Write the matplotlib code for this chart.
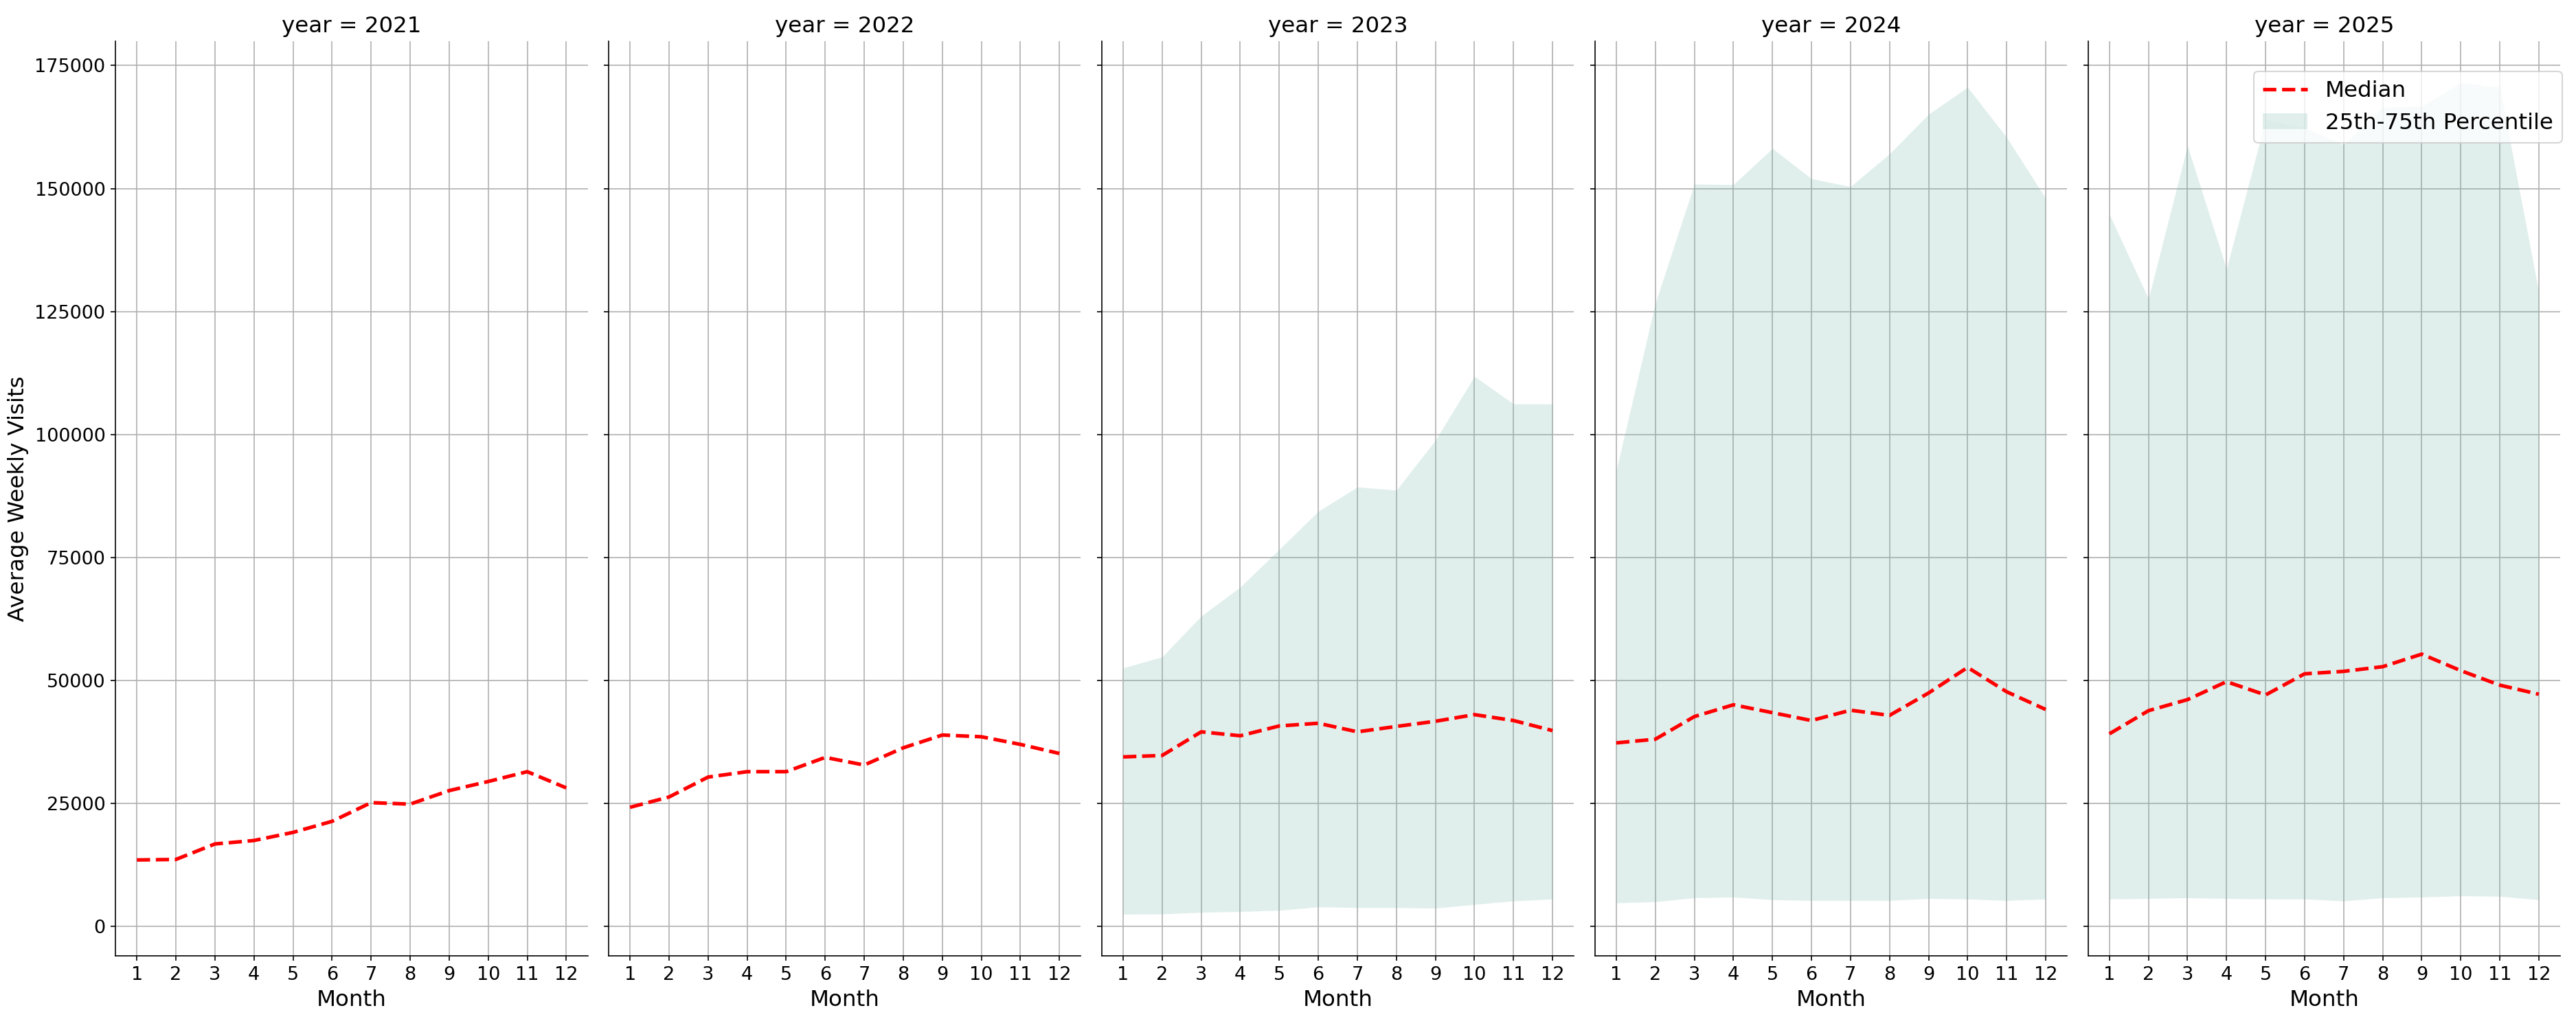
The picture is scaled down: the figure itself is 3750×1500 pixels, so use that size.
import numpy as np
import matplotlib
matplotlib.use("Agg")
import matplotlib.pyplot as plt

months = list(range(1, 13))
years = [2021, 2022, 2023, 2024, 2025]

median_2021 = [13450, 13550, 16700, 17400, 19050, 21300, 25100, 24800, 27550, 29400, 31400, 28100]
median_2022 = [24150, 26250, 30300, 31400, 31400, 34300, 32750, 36250, 38850, 38500, 36950, 35100]
median_2023 = [34400, 34700, 39500, 38700, 40700, 41250, 39500, 40600, 41650, 43000, 41800, 39750]
median_2024 = [37250, 38000, 42600, 45000, 43400, 41800, 43900, 42850, 47400, 52600, 47650, 44050]
median_2025 = [39100, 43800, 46050, 49700, 47000, 51300, 51800, 52750, 55300, 51950, 49000, 47150]

p25_2023 = [2400, 2450, 2800, 2950, 3200, 3900, 3750, 3750, 3650, 4400, 5100, 5500]
p75_2023 = [52500, 54750, 63050, 68950, 76600, 84350, 89300, 88650, 98800, 111800, 106200, 106200]
p25_2024 = [4700, 4950, 5750, 5900, 5350, 5200, 5200, 5200, 5600, 5500, 5200, 5500]
p75_2024 = [92650, 126650, 150900, 150800, 158150, 152000, 150400, 157050, 165100, 170600, 160400, 148000]
p25_2025 = [5500, 5600, 5750, 5600, 5500, 5500, 5100, 5750, 5900, 6150, 6050, 5350]
p75_2025 = [144750, 127600, 158700, 133650, 164000, 162300, 158900, 166500, 166700, 171500, 170600, 128950]

medians = [median_2021, median_2022, median_2023, median_2024, median_2025]
p25s = [None, None, p25_2023, p25_2024, p25_2025]
p75s = [None, None, p75_2023, p75_2024, p75_2025]

fill_color = "#69b3a2"

fig, axes = plt.subplots(1, 5, figsize=(25, 10), dpi=150, sharey=True)
fig.subplots_adjust(left=0.0448, right=0.9939, top=0.96, bottom=0.072, wspace=0.044)

for i, (ax, yr) in enumerate(zip(axes, years)):
    ax.set_axisbelow(True)
    ax.grid(True, color="#b0b0b0", linewidth=0.8)
    ax.plot(months, medians[i], color="red", linestyle="--", linewidth=2.5, label="Median")
    if p25s[i] is not None:
        ax.fill_between(months, p25s[i], p75s[i], color=fill_color, alpha=0.2,
                        linewidth=0, label="25th-75th Percentile")
    ax.set_title(f"year = {yr}", fontsize=15.6)
    ax.set_xlabel("Month", fontsize=15.6)
    ax.set_xticks(months)
    ax.tick_params(axis="both", labelsize=13)
    ax.spines["top"].set_visible(False)
    ax.spines["right"].set_visible(False)

axes[0].set_ylabel("Average Weekly Visits", fontsize=15.6)
axes[-1].legend(loc="upper right", bbox_to_anchor=(1.004, 0.967), borderaxespad=0,
                fontsize=15.6)

fig.savefig("out.png", dpi=150)
